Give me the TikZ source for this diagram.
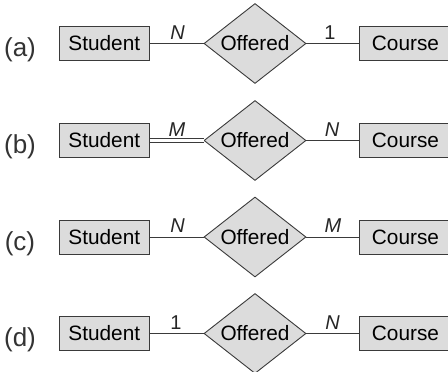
\documentclass[tikz,border=0pt]{standalone}
\usepackage{fontspec}
\setmainfont{Liberation Sans}
\usetikzlibrary{shapes.geometric}
\definecolor{boxfill}{HTML}{DCDCDC}
\definecolor{edge}{HTML}{3A3A3A}
\tikzset{
  entity/.style={draw=edge, line width=0.9pt, fill=boxfill, minimum height=34pt, inner sep=0pt, font=\fontsize{20.8}{24}\selectfont},
  rel/.style={diamond, draw=edge, line width=0.9pt, fill=boxfill, minimum width=102pt, minimum height=80pt, aspect=1.275, inner sep=0pt, font=\fontsize{20.8}{24}\selectfont},
  conn/.style={draw=edge, line width=0.9pt},
  dbl/.style={draw=edge, line width=0.8pt, double=white, double distance=2.6pt},
  card/.style={anchor=base, inner sep=0pt, font=\fontsize{20}{24}\selectfont\itshape, text=black!85},
  num/.style={anchor=base, inner sep=0pt, font=\fontsize{20}{24}\selectfont, text=black!85},
  tag/.style={anchor=base, inner sep=0pt, font=\fontsize{26}{30}\selectfont, text=black!80}
}
\begin{document}
\begin{tikzpicture}[x=1pt,y=-1pt]
\useasboundingbox (0,0) rectangle (448,372);
% row (a)
\node[tag] (la) at (20,56.5) {(a)};
\node[entity, minimum width=90.5pt] (sa) at (104.3,43.5) {Student};
\node[rel] (ra) at (255,43.5) {Offered};
\node[entity, minimum width=93pt] (ca) at (405.5,43.5) {Course};
\draw[conn] (sa.east) -- (ra.west);
\draw[conn] (ra.east) -- (ca.west);
\node[card] (na1) at (177.5,39) {N};
\node[num] (na2) at (330,39) {1};
% row (b)
\node[tag] (lb) at (20,153.5) {(b)};
\node[entity, minimum width=90.5pt] (sb) at (104.3,140.5) {Student};
\node[rel] (rb) at (255,140.5) {Offered};
\node[entity, minimum width=93pt] (cb) at (405.5,140.5) {Course};
\draw[dbl] (sb.east) -- (rb.west);
\draw[conn] (rb.east) -- (cb.west);
\node[card] (nb1) at (177,136) {M};
\node[card] (nb2) at (332,136) {N};
% row (c)
\node[tag] (lc) at (20,250) {(c)};
\node[entity, minimum width=90.5pt] (sc) at (104.3,237) {Student};
\node[rel] (rc) at (255,237) {Offered};
\node[entity, minimum width=93pt] (cc) at (405.5,237) {Course};
\draw[conn] (sc.east) -- (rc.west);
\draw[conn] (rc.east) -- (cc.west);
\node[card] (nc1) at (177.5,232.5) {N};
\node[card] (nc2) at (333,232.5) {M};
% row (d)
\node[tag] (ld) at (20,346.5) {(d)};
\node[entity, minimum width=90.5pt] (sd) at (104.3,333.5) {Student};
\node[rel] (rd) at (255,333.5) {Offered};
\node[entity, minimum width=93pt] (cd) at (405.5,333.5) {Course};
\draw[conn] (sd.east) -- (rd.west);
\draw[conn] (rd.east) -- (cd.west);
\node[num] (nd1) at (176,329) {1};
\node[card] (nd2) at (332.5,329) {N};
\end{tikzpicture}
\end{document}
